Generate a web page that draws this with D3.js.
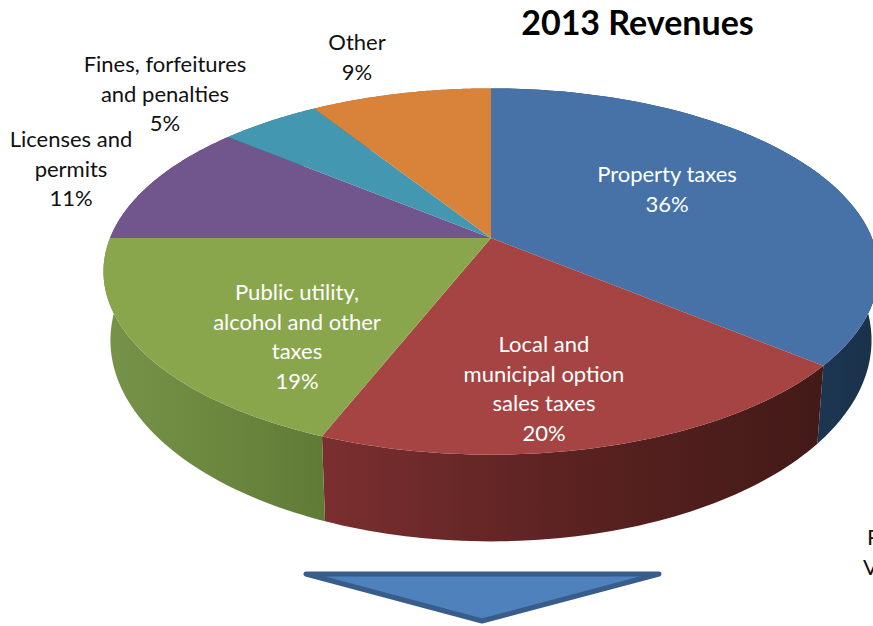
<!DOCTYPE html>
<html>
<head>
<meta charset="utf-8">
<script src="https://cdn.jsdelivr.net/npm/d3@7"></script>
<style>
html,body{margin:0;padding:0;background:#fff;overflow:hidden}
svg{display:block}
text{font-family:Lato,"Open Sans",sans-serif}
</style>
</head>
<body>
<svg id="chart" width="873" height="626"></svg>
<script>
// 2013 revenue shares, clockwise from twelve o'clock
const categories = [
  "Property taxes",
  "Local and municipal option sales taxes",
  "Public utility, alcohol and other taxes",
  "Licenses and permits",
  "Fines, forfeitures and penalties",
  "Other"
];
const shares = [36, 20, 19, 11, 5, 9];
const labelLines = [
  ["Property taxes"],
  ["Local and", "municipal option", "sales taxes"],
  ["Public utility,", "alcohol and other", "taxes"],
  ["Licenses and", "permits"],
  ["Fines, forfeitures", "and penalties"],
  ["Other"]
];
const labelCentres = [[667, 182], [544, 352], [297, 300], [71, 147], [165, 72], [357, 50]];
const labelColours = ["#fff", "#fff", "#fff", "#111", "#111", "#111"];
const topColours = ["#4672a8", "#a54442", "#8aa64c", "#71568e", "#4497b0", "#d98239"];
const wallStops = [
  [["#1c3653", 0], ["#1a3149", 1]],
  [["#7a2e2f", 0], ["#5a2221", 0.5], ["#431a17", 1]],
  [["#77934a", 0], ["#6e8a40", 0.4], ["#5f7a36", 1]],
  [["#4e3a66", 0], ["#4e3a66", 1]],
  [["#2e6d80", 0], ["#2e6d80", 1]],
  [["#a5622a", 0], ["#a5622a", 1]]
];
const wallSpans = [[815, 875], [327, 820], [104, 332], [104, 240], [230, 315], [310, 491]];

const svg = d3.select("#chart");
const lineGap = 29.5;

// Tilted disc: the circle is projected so that its centre sits above the middle of the ellipse
const apex = [491, 238], radiusX = 381, radiusY = 177, tilt = 0.183;
const project = (angle, plane) => {
  const X = Math.sin(angle), Y = -Math.cos(angle), w = 1 - tilt * Y;
  return [plane.cx + plane.sx * radiusX * X / w, plane.cy + plane.sy * radiusY * Y / w];
};
const topPlane = {cx: apex[0], cy: apex[1], sx: 1, sy: 1};
const basePlane = {cx: apex[0], cy: 303.5, sx: 0.982, sy: 1.098};

const pie = d3.pie().sort(null).startAngle(0).endAngle(2 * Math.PI);
const slices = pie(shares);
const line = d3.line();
const arcAngles = s => d3.range(0, 61).map(i => s.startAngle + (s.endAngle - s.startAngle) * i / 60);

// Gradients along the rim of the disc
const defs = svg.append("defs");
wallStops.forEach((stops, i) => {
  const g = defs.append("linearGradient").attr("id", "wall" + i)
    .attr("gradientUnits", "userSpaceOnUse")
    .attr("x1", wallSpans[i][0]).attr("x2", wallSpans[i][1]).attr("y1", 0).attr("y2", 0);
  stops.forEach(([c, o]) => g.append("stop").attr("offset", o).attr("stop-color", c));
});

// Rim first, top faces painted over it
svg.append("g").selectAll("path").data(slices).join("path")
  .attr("fill", (d, i) => `url(#wall${i})`)
  .attr("d", d => {
    const a = arcAngles(d);
    return line(a.map(t => project(t, topPlane)).concat(a.slice().reverse().map(t => project(t, basePlane)))) + "Z";
  });

svg.append("g").selectAll("path").data(slices).join("path")
  .attr("fill", (d, i) => topColours[i])
  .attr("d", d => line([apex].concat(arcAngles(d).map(t => project(t, topPlane)))) + "Z");

// Slice labels with their percentages
const labels = svg.append("g").attr("font-size", 22).attr("text-anchor", "middle");
categories.forEach((name, i) => {
  const rows = labelLines[i].concat(shares[i] + "%");
  const t = labels.append("text").attr("fill", labelColours[i]).attr("aria-label", name);
  rows.forEach((row, j) => {
    t.append("tspan").attr("x", labelCentres[i][0]).attr("y", labelCentres[i][1] + j * lineGap).text(row);
  });
});

svg.append("text").attr("x", 637.5).attr("y", 35).attr("text-anchor", "middle")
  .attr("font-size", 34).attr("font-weight", 700).attr("fill", "#000").text("2013 Revenues");

// Downward arrow under the pie
svg.append("path").attr("d", line([[306, 574], [659, 574], [482, 621]]) + "Z")
  .attr("fill", "#4f81bd").attr("stroke", "#385d8a").attr("stroke-width", 5).attr("stroke-linejoin", "round");

// Text running off the right edge of the page
const edgeText = [["P", 867, 545], ["V", 863, 575]];
svg.append("g").attr("font-size", 22).attr("fill", "#111").selectAll("text").data(edgeText).join("text")
  .attr("x", d => d[1]).attr("y", d => d[2]).text(d => d[0]);
</script>
</body>
</html>
